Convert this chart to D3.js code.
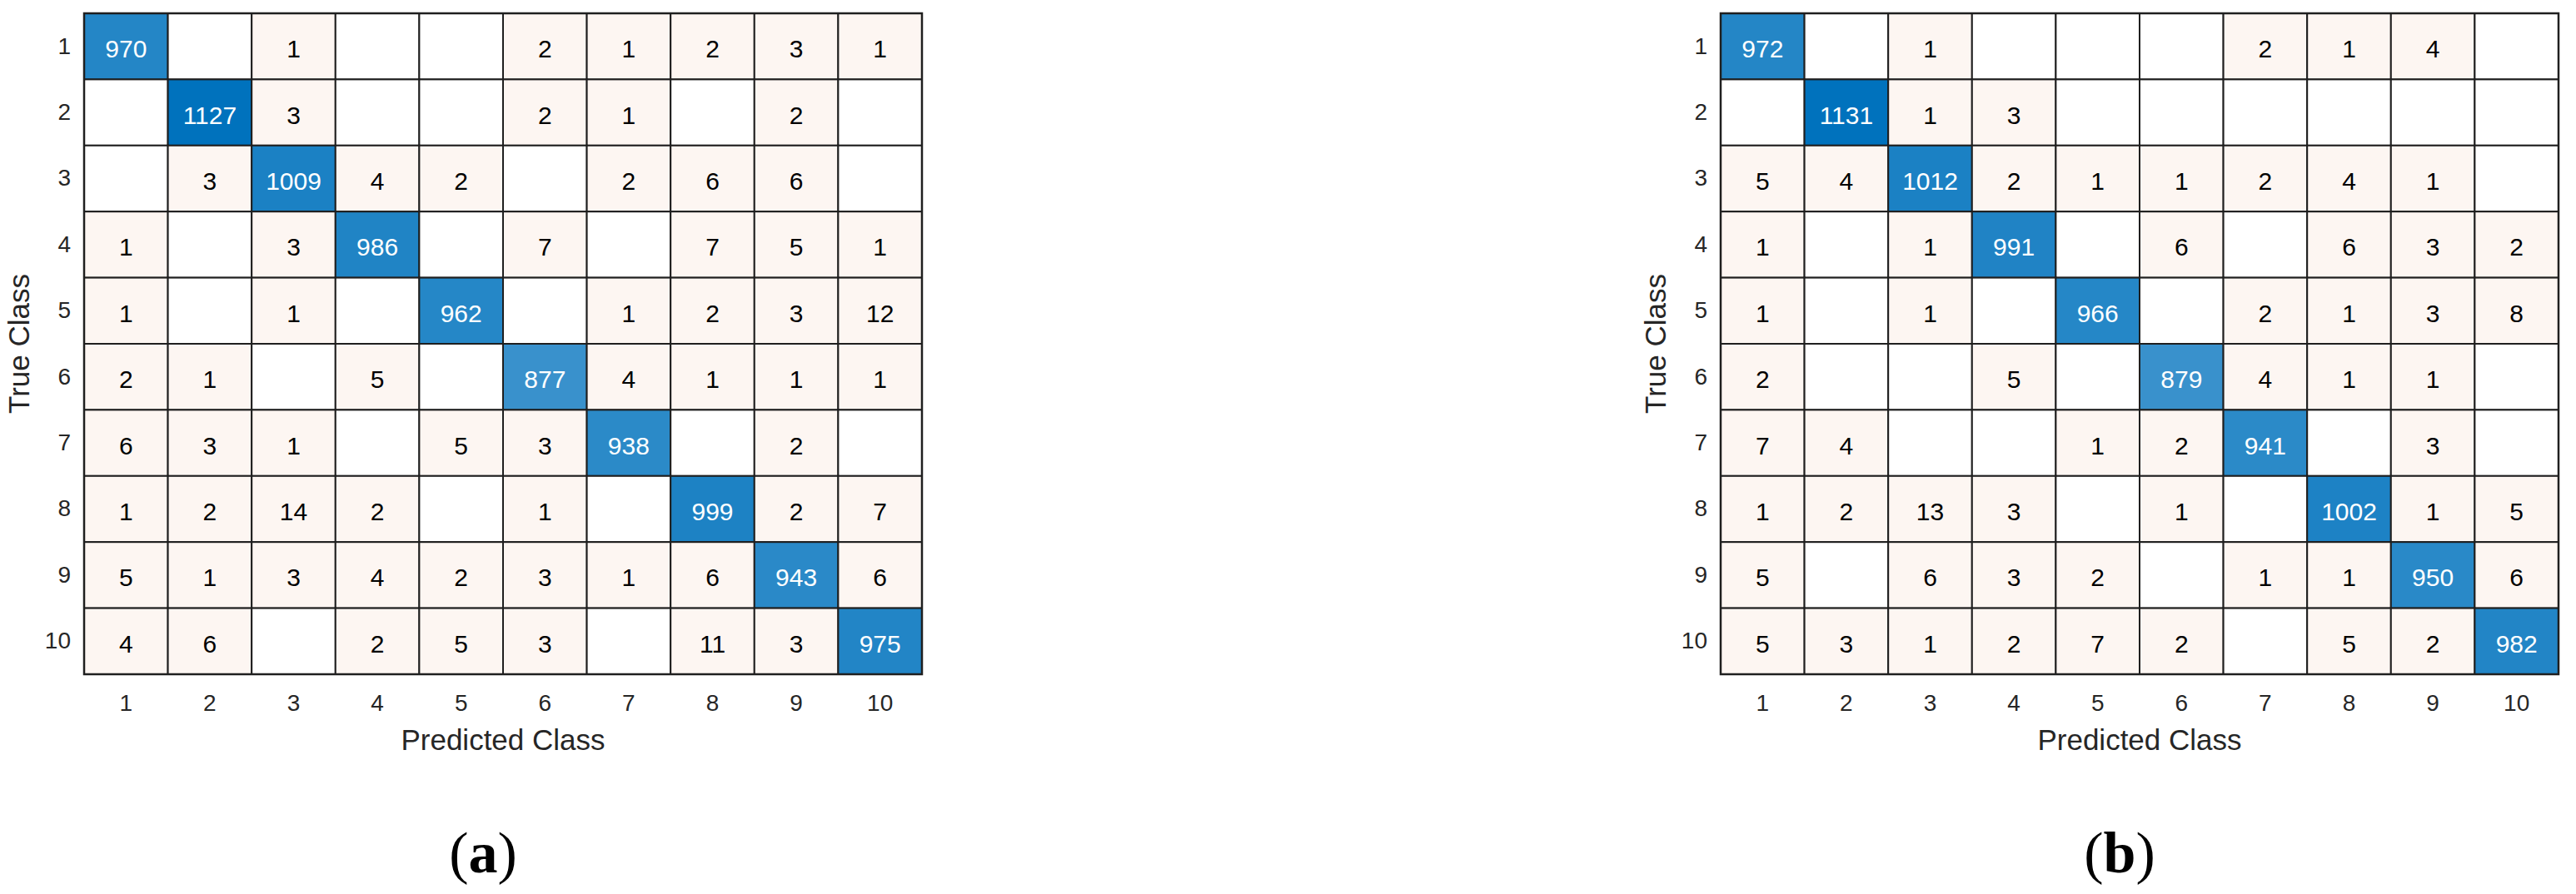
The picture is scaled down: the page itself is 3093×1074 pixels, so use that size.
<!DOCTYPE html>
<meta charset="UTF-8">
<style>
    body { margin: 0; background: #fff; }
</style>
<body>
<script src="https://d3js.org/d3.v7.min.js"></script>
<script>

// class labels (rows = true, columns = predicted)
var classes = ["1", "2", "3", "4", "5", "6", "7", "8", "9", "10"];

// confusion matrix (a), 0 = empty cell
var matrixA = [
  [970,    0,    1,   0,   0,   2,   1,   2,   3,   1],
  [  0, 1127,    3,   0,   0,   2,   1,   0,   2,   0],
  [  0,    3, 1009,   4,   2,   0,   2,   6,   6,   0],
  [  1,    0,    3, 986,   0,   7,   0,   7,   5,   1],
  [  1,    0,    1,   0, 962,   0,   1,   2,   3,  12],
  [  2,    1,    0,   5,   0, 877,   4,   1,   1,   1],
  [  6,    3,    1,   0,   5,   3, 938,   0,   2,   0],
  [  1,    2,   14,   2,   0,   1,   0, 999,   2,   7],
  [  5,    1,    3,   4,   2,   3,   1,   6, 943,   6],
  [  4,    6,    0,   2,   5,   3,   0,  11,   3, 975]
];

// confusion matrix (b)
var matrixB = [
  [972,    0,    1,   0,   0,   0,   2,    1,   4,   0],
  [  0, 1131,    1,   3,   0,   0,   0,    0,   0,   0],
  [  5,    4, 1012,   2,   1,   1,   2,    4,   1,   0],
  [  1,    0,    1, 991,   0,   6,   0,    6,   3,   2],
  [  1,    0,    1,   0, 966,   0,   2,    1,   3,   8],
  [  2,    0,    0,   5,   0, 879,   4,    1,   1,   0],
  [  7,    4,    0,   0,   1,   2, 941,    0,   3,   0],
  [  1,    2,   13,   3,   0,   1,   0, 1002,   1,   5],
  [  5,    0,    6,   3,   2,   0,   1,    1, 950,   6],
  [  5,    3,    1,   2,   7,   2,   0,    5,   2, 982]
];

var panels = [
  {tag: "a", data: matrixA, left: 101},
  {tag: "b", data: matrixB, left: 2066}
];

var W = 3093, H = 1074;
var gridW = 1006, gridTop = 16, gridH = 794;
var sans = "'Liberation Sans', Arial, Helvetica, sans-serif";

var svg = d3.select("body").append("svg")
    .attr("width", W)
    .attr("height", H);

panels.forEach(function(p) { drawMatrix(p); });

function drawMatrix(p) {
  var g = svg.append("g");

  var x = d3.scaleBand().domain(classes).range([p.left, p.left + gridW]);
  var y = d3.scaleBand().domain(classes).range([gridTop, gridTop + gridH]);

  var maxVal = d3.max(p.data, function(r) { return d3.max(r); });
  // diagonal: white -> MATLAB blue, off-diagonal: faint orange tint
  var diagColor = d3.scaleLinear().domain([0, maxVal]).range(["#ffffff", "#0072BD"]);
  var offColor = d3.interpolateRgb("#ffffff", "#D95319");

  var cells = [];
  p.data.forEach(function(row, i) {
    row.forEach(function(v, j) {
      cells.push({row: classes[i], col: classes[j], v: v, diag: i === j});
    });
  });

  var cell = g.selectAll("g.cell")
      .data(cells)
    .enter().append("g")
      .attr("class", "cell");

  cell.append("rect")
      .attr("x", function(d) { return x(d.col); })
      .attr("y", function(d) { return y(d.row); })
      .attr("width", x.bandwidth())
      .attr("height", y.bandwidth())
      .style("fill", function(d) {
        if (d.v === 0) return "#ffffff";
        if (d.diag) return diagColor(d.v);
        return offColor(Math.max(0.055, d.v / maxVal));
      })
      .style("stroke", "#1f1f1f")
      .style("stroke-width", 2);

  cell.filter(function(d) { return d.v > 0; })
    .append("text")
      .attr("x", function(d) { return x(d.col) + x.bandwidth() / 2; })
      .attr("y", function(d) { return y(d.row) + y.bandwidth() / 2 + 3; })
      .attr("text-anchor", "middle")
      .attr("dy", "0.35em")
      .style("font-family", sans)
      .style("font-size", "30px")
      .style("fill", function(d) { return d.diag ? "#ffffff" : "#000000"; })
      .text(function(d) { return d.v; });

  // outer frame
  g.append("rect")
      .attr("x", p.left)
      .attr("y", gridTop)
      .attr("width", gridW)
      .attr("height", gridH)
      .style("fill", "none")
      .style("stroke", "#1f1f1f")
      .style("stroke-width", 2.5);

  // axes
  var xAxis = g.append("g")
      .attr("transform", "translate(0," + (gridTop + gridH) + ")")
      .call(d3.axisBottom(x).tickSize(0).tickPadding(24));
  xAxis.select(".domain").remove();

  var yAxis = g.append("g")
      .attr("transform", "translate(" + p.left + ",0)")
      .call(d3.axisLeft(y).tickSize(0).tickPadding(16));
  yAxis.select(".domain").remove();

  g.selectAll(".tick text")
      .style("font-family", sans)
      .style("font-size", "28px")
      .style("fill", "#262626");

  g.append("text")
      .attr("x", p.left + gridW / 2)
      .attr("y", 901)
      .attr("text-anchor", "middle")
      .style("font-family", sans)
      .style("font-size", "35px")
      .style("fill", "#262626")
      .text("Predicted Class");

  g.append("text")
      .attr("transform", "translate(" + (p.left - 66) + "," + (gridTop + gridH / 2) + ") rotate(-90)")
      .attr("text-anchor", "middle")
      .style("font-family", sans)
      .style("font-size", "35px")
      .style("fill", "#262626")
      .text("True Class");

  var tag = g.append("text")
      .attr("x", p.left + gridW / 2 - 24)
      .attr("y", 1048)
      .attr("text-anchor", "middle")
      .style("font-family", "'Liberation Serif', 'Times New Roman', serif")
      .style("font-size", "70px")
      .style("fill", "#000");
  tag.append("tspan").text("(");
  tag.append("tspan").style("font-weight", "bold").text(p.tag);
  tag.append("tspan").text(")");
}

</script>
</body>
